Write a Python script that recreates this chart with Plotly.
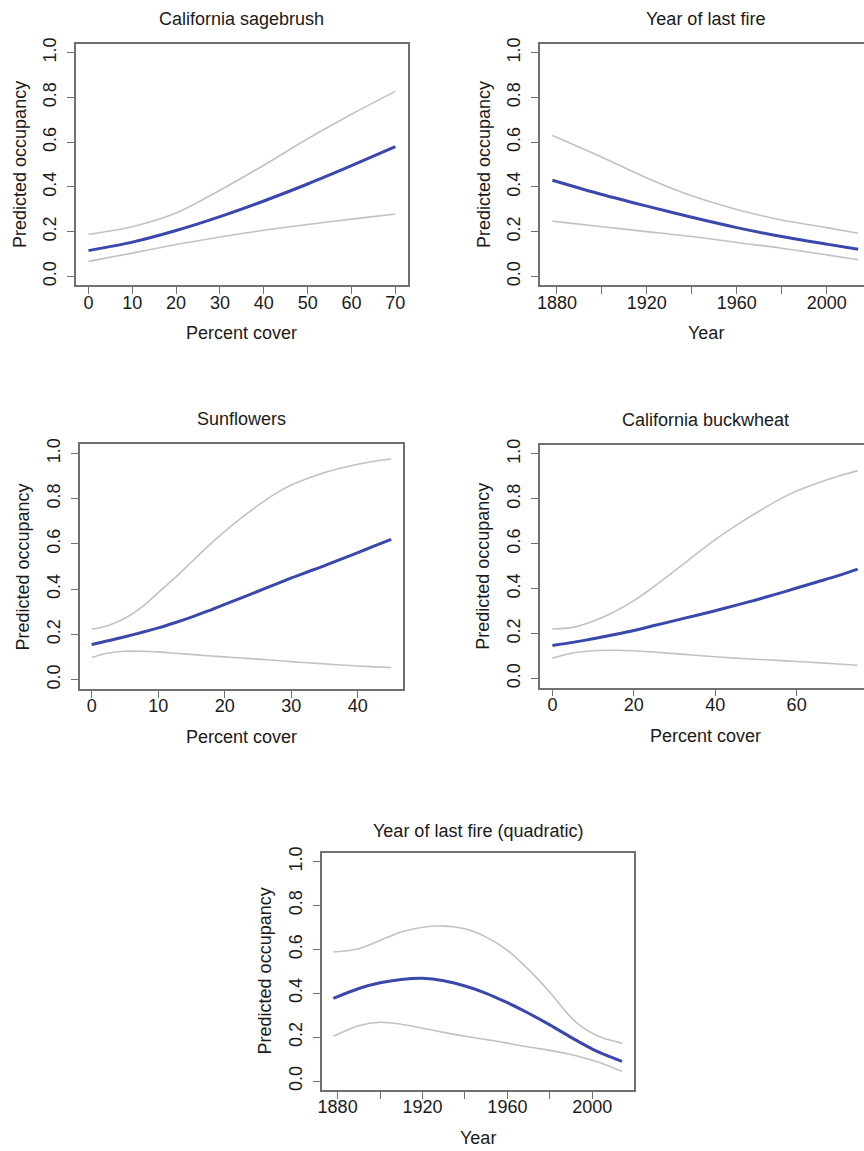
import plotly.graph_objects as go

W, H = 864, 1151

# ---------------- data ----------------
sage_x = [0, 10, 20, 30, 40, 50, 60, 70]
sage_fit = [0.115, 0.153, 0.205, 0.267, 0.337, 0.413, 0.495, 0.580]
sage_hi = [0.188, 0.222, 0.283, 0.385, 0.497, 0.615, 0.725, 0.827]
sage_lo = [0.067, 0.104, 0.142, 0.176, 0.206, 0.232, 0.256, 0.279]

fire_x = [1878, 1900, 1920, 1940, 1960, 1980, 2000, 2014]
fire_fit = [0.430, 0.366, 0.314, 0.264, 0.218, 0.178, 0.144, 0.121]
fire_hi = [0.630, 0.533, 0.440, 0.360, 0.299, 0.252, 0.218, 0.193]
fire_lo = [0.247, 0.222, 0.200, 0.178, 0.151, 0.126, 0.096, 0.074]

sun_x = [0, 2.5, 5, 7.5, 10, 12.5, 15, 17.5, 20, 22.5, 25, 27.5, 30, 32.5, 35, 37.5, 40, 42.5, 45]
sun_fit = [0.156, 0.172, 0.190, 0.209, 0.229, 0.252, 0.277, 0.304, 0.333, 0.362, 0.391, 0.420,
           0.450, 0.477, 0.504, 0.533, 0.562, 0.591, 0.620]
sun_hi = [0.223, 0.240, 0.272, 0.320, 0.385, 0.450, 0.520, 0.590, 0.655, 0.715, 0.770, 0.820,
          0.860, 0.890, 0.915, 0.935, 0.952, 0.965, 0.975]
sun_lo = [0.098, 0.118, 0.126, 0.126, 0.123, 0.117, 0.112, 0.106, 0.101, 0.096, 0.091, 0.086,
          0.080, 0.075, 0.070, 0.065, 0.061, 0.057, 0.054]

buck_x = [0, 5, 10, 15, 20, 25, 30, 35, 40, 45, 50, 55, 60, 65, 70, 75]
buck_fit = [0.147, 0.161, 0.177, 0.195, 0.214, 0.236, 0.258, 0.280, 0.302, 0.326, 0.350, 0.376,
            0.403, 0.430, 0.457, 0.487]
buck_hi = [0.221, 0.228, 0.255, 0.295, 0.347, 0.410, 0.479, 0.550, 0.619, 0.680, 0.737, 0.790,
           0.835, 0.870, 0.900, 0.926]
buck_lo = [0.091, 0.114, 0.124, 0.126, 0.124, 0.118, 0.111, 0.104, 0.097, 0.091, 0.086, 0.081,
           0.076, 0.071, 0.065, 0.059]

quad_x = [1878, 1890, 1900, 1910, 1920, 1930, 1940, 1950, 1960, 1970, 1980, 1990, 1995, 2000,
          2005, 2010, 2014]
quad_fit = [0.377, 0.422, 0.448, 0.463, 0.468, 0.457, 0.433, 0.400, 0.357, 0.309, 0.256, 0.199,
            0.172, 0.146, 0.124, 0.105, 0.090]
quad_hi = [0.588, 0.603, 0.641, 0.679, 0.701, 0.706, 0.694, 0.656, 0.596, 0.508, 0.405, 0.290,
           0.248, 0.218, 0.196, 0.183, 0.173]
quad_lo = [0.204, 0.252, 0.268, 0.259, 0.241, 0.222, 0.204, 0.189, 0.173, 0.155, 0.140, 0.121,
           0.109, 0.095, 0.079, 0.060, 0.045]

titles = ["California sagebrush", "Year of last fire", "Sunflowers",
          "California buckwheat", "Year of last fire (quadratic)"]
xlabels = ["Percent cover", "Year", "Percent cover", "Percent cover", "Year"]
ylabel = "Predicted occupancy"

y_ticks = [0.0, 0.2, 0.4, 0.6, 0.8, 1.0]
pct70_ticks = [0, 10, 20, 30, 40, 50, 60, 70]
pct40_ticks = [0, 10, 20, 30, 40]
pct60_ticks = [0, 20, 40, 60]
year_ticks = [1880, 1900, 1920, 1940, 1960, 1980, 2000]
year_labels = ["1880", "", "1920", "", "1960", "", "2000"]

# ---------------- layout (pixel geometry) ----------------
panels = [
    dict(x=sage_x, fit=sage_fit, hi=sage_hi, lo=sage_lo,
         px=(72.5, 405.5), py=(38, 281), xr=[-2.8, 72.8],
         tv=pct70_ticks, tt=[str(v) for v in pct70_ticks], clip=False, tgap=23),
    dict(x=fire_x, fit=fire_fit, hi=fire_hi, lo=fire_lo,
         px=(538.7, 864), py=(38, 281), xr=[1872.56, 2016.6],
         tv=year_ticks, tt=year_labels, clip=True, tgap=23),
    dict(x=sun_x, fit=sun_fit, hi=sun_hi, lo=sun_lo,
         px=(76, 401), py=(441, 687), xr=[-1.8, 46.8],
         tv=pct40_ticks, tt=[str(v) for v in pct40_ticks], clip=False, tgap=23),
    dict(x=buck_x, fit=buck_fit, hi=buck_hi, lo=buck_lo,
         px=(538.7, 864), py=(441.7, 685.7), xr=[-3, 76.55],
         tv=pct60_ticks, tt=[str(v) for v in pct60_ticks], clip=True, tgap=23),
    dict(x=quad_x, fit=quad_fit, hi=quad_hi, lo=quad_lo,
         px=(319.3, 633.3), py=(852, 1090.5), xr=[1872.56, 2019.84],
         tv=year_ticks, tt=year_labels, clip=False, tgap=20),
]

FONT = "Liberation Sans, Arial, sans-serif"
TXT = "#1a1a1a"
BOX = "#707070"
GRAY = "#c2c2c2"
BLUE = "#3a48ad"
FS = 18

fig = go.Figure()
layout = dict(width=W, height=H, margin=dict(l=0, r=0, t=0, b=0),
              paper_bgcolor="white", plot_bgcolor="white", showlegend=False,
              annotations=[])


def fx(p):
    return p / W


def fy(p):
    return 1 - p / H


for i, p in enumerate(panels, start=1):
    xa = "x" if i == 1 else f"x{i}"
    ya = "y" if i == 1 else f"y{i}"
    for arr, col, wd in [(p["hi"], GRAY, 1.6), (p["lo"], GRAY, 1.6), (p["fit"], BLUE, 3)]:
        fig.add_trace(go.Scatter(x=p["x"], y=arr, mode="lines", xaxis=xa, yaxis=ya,
                                 line=dict(color=col, width=wd, shape="spline", smoothing=0.8),
                                 hoverinfo="skip"))
    x0, x1 = p["px"]
    y0, y1 = p["py"]
    xkey = "xaxis" if i == 1 else f"xaxis{i}"
    ykey = "yaxis" if i == 1 else f"yaxis{i}"
    layout[xkey] = dict(domain=[fx(x0), fx(x1)], range=p["xr"], anchor=ya,
                        showgrid=False, zeroline=False, showline=True, mirror=True,
                        linecolor=BOX, linewidth=1.5, ticks="outside", ticklen=7,
                        tickwidth=1.3, tickcolor=BOX, tickvals=p["tv"], ticktext=p["tt"],
                        tickfont=dict(family=FONT, size=FS, color=TXT),
                        ticklabelstandoff=-7)
    layout[ykey] = dict(domain=[fy(y1), fy(y0)], range=[-0.04, 1.04], anchor=xa,
                        showgrid=False, zeroline=False, showline=True,
                        mirror=(not p["clip"]),
                        linecolor=BOX, linewidth=1.5, ticks="outside", ticklen=7,
                        tickwidth=1.3, tickcolor=BOX, tickvals=y_ticks,
                        ticktext=[f"{v:.1f}" for v in y_ticks], tickangle=-90,
                        tickfont=dict(family=FONT, size=FS, color=TXT),
                        ticklabelstandoff=4)
    if p["clip"]:
        cx = x0 + 166.2
    else:
        cx = (x0 + x1) / 2
    cy = (y0 + y1) / 2
    # title
    layout["annotations"].append(dict(text=titles[i - 1], x=fx(cx), y=fy(y0 - p["tgap"] - 2),
                                      xref="paper", yref="paper", showarrow=False,
                                      xanchor="center", yanchor="middle",
                                      font=dict(family=FONT, size=FS, color=TXT)))
    # x label
    layout["annotations"].append(dict(text=xlabels[i - 1], x=fx(cx), y=fy(y1 + 48.5),
                                      xref="paper", yref="paper", showarrow=False,
                                      xanchor="center", yanchor="middle",
                                      font=dict(family=FONT, size=FS, color=TXT)))
    # y label
    layout["annotations"].append(dict(text=ylabel, x=fx(x0 - 57), y=fy(cy),
                                      xref="paper", yref="paper", showarrow=False,
                                      xanchor="center", yanchor="middle", textangle=-90,
                                      font=dict(family=FONT, size=FS, color=TXT)))

fig.update_layout(**layout)
fig.write_html("out.html")
